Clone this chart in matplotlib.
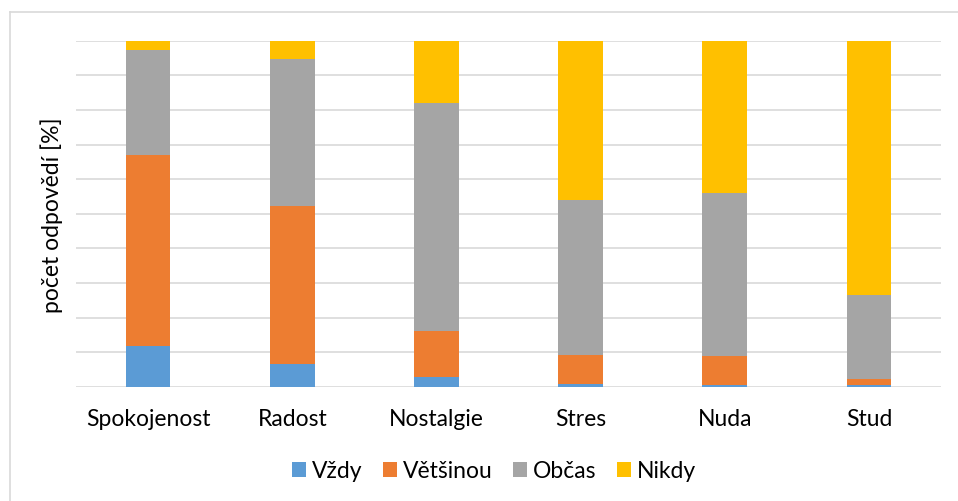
import matplotlib
matplotlib.use("Agg")
import matplotlib.pyplot as plt
from matplotlib.lines import Line2D
import numpy as np

categories = ["Spokojenost", "Radost", "Nostalgie", "Stres", "Nuda", "Stud"]
vzdy = [11.8, 6.5, 2.9, 0.9, 0.4, 0.6]
vetsinou = [55.2, 45.6, 13.3, 8.4, 8.6, 1.7]
obcas = [30.4, 42.7, 65.9, 44.6, 47.1, 24.3]
nikdy = [2.6, 5.2, 17.9, 46.1, 43.9, 73.4]

series = [("Vždy", vzdy, "#5B9BD5"), ("Většinou", vetsinou, "#ED7D31"),
          ("Občas", obcas, "#A5A5A5"), ("Nikdy", nikdy, "#FFC000")]

plt.rcParams['font.family'] = ['Lato', 'DejaVu Sans']

W, H = 958, 502
fig = plt.figure(figsize=(W/100, H/100), dpi=100)
ax = fig.add_axes([76/W, 1-387.7/H, (941-76)/W, 346/H])

x = np.arange(len(categories))
bottom = np.zeros(len(categories))
for name, vals, col in series:
    ax.bar(x, vals, width=0.31, bottom=bottom, color=col, label=name, zorder=3, linewidth=0)
    bottom += np.array(vals)

ax.set_xlim(-0.5, 5.5)
ax.set_ylim(0, 100)
ax.set_yticks(np.arange(0, 101, 10))
ax.set_yticklabels([])
ax.tick_params(axis='y', length=0)
ax.tick_params(axis='x', length=0, pad=15, labelsize=16.5, labelcolor="#000000")
ax.set_xticks(x)
ax.set_xticklabels(categories)
ax.grid(axis='y', color="#d9d9d9", linewidth=1.2, zorder=0)
for s in ax.spines.values():
    s.set_visible(False)
ax.set_ylabel("počet odpovědí [%]", fontsize=16.5, labelpad=6, color="#000000")

leg = fig.legend(loc='center', bbox_to_anchor=(494/W, 1-472/H), ncol=4, frameon=False,
                 fontsize=16.5, handlelength=0.61, handleheight=0.61, handletextpad=0.28,
                 columnspacing=0.87)

# chart-area border (left and top edges visible)
fig.add_artist(Line2D([9.5/W, 9.5/W], [0, 1-12.5/H], transform=fig.transFigure,
                      color="#d9d9d9", linewidth=1.2))
fig.add_artist(Line2D([9.5/W, 1], [1-12.5/H, 1-12.5/H], transform=fig.transFigure,
                      color="#d9d9d9", linewidth=1.2))

fig.savefig("out.png", dpi=100, facecolor="white")
